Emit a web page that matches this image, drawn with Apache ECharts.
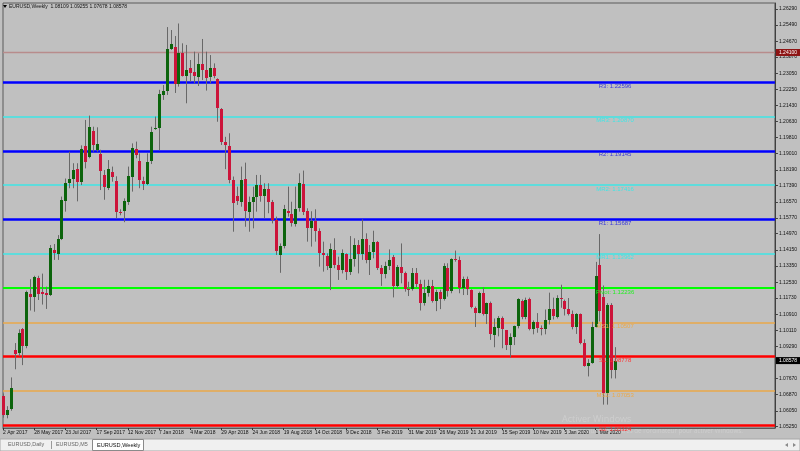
<!DOCTYPE html>
<html><head><meta charset="utf-8">
<script src="https://cdn.jsdelivr.net/npm/echarts@6/dist/echarts.min.js"></script>
<style>html,body{margin:0;padding:0;background:#c0c0c0;overflow:hidden}#c{width:800px;height:451px}</style>
</head><body><div id="c"></div>
<script>
// ---- data: weekly EURUSD candles, week index 0 = 2 Apr 2017 ----
const opens=[
1.0680,1.0585,1.0612,1.0910,1.0895,1.1015,1.0930,1.1195,1.1178,1.1275,
1.1205,1.1200,1.1190,1.1415,1.1395,1.1468,1.1662,1.1750,1.1773,1.1822,
1.1755,1.1940,1.1885,1.2015,1.1920,1.1897,1.1795,1.1728,1.1810,1.1765,
1.1607,1.1610,1.1655,1.1785,1.1925,1.1863,1.1764,1.1745,1.1865,1.2025,
1.2030,1.2195,1.2218,1.2428,1.2440,1.2251,1.2406,1.2291,1.2333,1.2310,
1.2288,1.2350,1.2322,1.2285,1.2330,1.2275,1.2125,1.1960,1.1940,1.1768,
1.1685,1.1655,1.1772,1.1605,1.1655,1.1680,1.1740,1.1688,1.1722,1.1655,
1.1566,1.1390,1.1437,1.1613,1.1595,1.1548,1.1625,1.1746,1.1610,1.1525,
1.1560,1.1512,1.1400,1.1385,1.1323,1.1415,1.1338,1.1314,1.1395,1.1305,
1.1370,1.1440,1.1395,1.1470,1.1362,1.1405,1.1455,1.1325,1.1295,1.1336,
1.1380,1.1235,1.1327,1.1300,1.1218,1.1216,1.1297,1.1245,1.1150,1.1200,
1.1234,1.1158,1.1205,1.1168,1.1325,1.1208,1.1368,1.1362,1.1222,1.1268,
1.1213,1.1121,1.1100,1.1200,1.1090,1.1150,1.0985,1.1022,1.1072,1.1010,
1.0937,1.0976,1.1032,1.1160,1.1076,1.1166,1.1018,1.1050,1.1020,1.1016,
1.1060,1.1120,1.1077,1.1175,1.1160,1.1120,1.1090,1.1025,1.1093,1.0944,
1.0830,1.0845,1.1025,1.1339,1.1180,1.0695,1.1140,1.08109];
const closes=[
1.0585,1.0610,1.0722,1.0893,1.0996,1.0930,1.1205,1.1178,1.1278,1.1195,
1.1195,1.1188,1.1425,1.1398,1.1468,1.1665,1.1750,1.1773,1.1820,1.1758,
1.1925,1.1858,1.2035,1.1943,1.1950,1.1812,1.1730,1.1822,1.1782,1.1605,
1.1605,1.1660,1.1790,1.1930,1.1895,1.1766,1.1747,1.1860,1.2008,1.2030,
1.2200,1.2218,1.2425,1.2455,1.2250,1.2406,1.2292,1.2320,1.2307,1.2290,
1.2352,1.2323,1.2283,1.2330,1.2290,1.2130,1.1960,1.1942,1.1770,1.1650,
1.1660,1.1770,1.1610,1.1655,1.1684,1.1744,1.1686,1.1720,1.1658,1.1568,
1.1410,1.1437,1.1622,1.1600,1.1550,1.1623,1.1750,1.1605,1.1525,1.1560,
1.1512,1.1400,1.1388,1.1335,1.1418,1.1338,1.1314,1.1400,1.1305,1.1370,
1.1440,1.1395,1.1470,1.1362,1.1405,1.1455,1.1325,1.1295,1.1336,1.1365,
1.1235,1.1327,1.1300,1.1218,1.1216,1.1297,1.1245,1.1150,1.1200,1.1234,
1.1158,1.1205,1.1168,1.1333,1.1208,1.1368,1.1362,1.1222,1.1270,1.1218,
1.1127,1.1100,1.1197,1.1090,1.1146,1.0990,1.1025,1.1072,1.1015,1.0937,
1.0976,1.1032,1.1166,1.1076,1.1165,1.1018,1.1050,1.1020,1.1016,1.1060,
1.1120,1.1080,1.1175,1.1166,1.1120,1.1092,1.1025,1.1093,1.0944,1.0830,
1.0845,1.1025,1.1285,1.1106,1.0695,1.1140,1.0810,1.08578];
const lows=[
1.0570,1.0567,1.0605,1.0814,1.0880,1.0835,1.0920,1.1110,1.1104,1.1163,
1.1140,1.1118,1.1183,1.1365,1.1365,1.1465,1.1608,1.1726,1.1726,1.1660,
1.1742,1.1826,1.1877,1.1910,1.1910,1.1717,1.1668,1.1717,1.1759,1.1574,
1.1590,1.1555,1.1642,1.1709,1.1877,1.1726,1.1717,1.1742,1.1848,1.2020,
1.1917,1.2171,1.2196,1.2423,1.2206,1.2238,1.2289,1.2154,1.2263,1.2255,
1.2241,1.2271,1.2218,1.2255,1.2280,1.2061,1.1944,1.1822,1.1751,1.1507,
1.1642,1.1633,1.1532,1.1507,1.1524,1.1608,1.1658,1.1574,1.1600,1.1549,
1.1390,1.1300,1.1423,1.1583,1.1533,1.1533,1.1608,1.1591,1.1457,1.1432,
1.1457,1.1331,1.1306,1.1314,1.1213,1.1323,1.1264,1.1297,1.1264,1.1289,
1.1331,1.1297,1.1365,1.1348,1.1289,1.1373,1.1314,1.1234,1.1272,1.1314,
1.1176,1.1222,1.1247,1.1205,1.1183,1.1210,1.1227,1.1110,1.1135,1.1180,
1.1150,1.1107,1.1117,1.1160,1.1180,1.1197,1.1356,1.1197,1.1188,1.1188,
1.1121,1.1027,1.1096,1.1085,1.1042,1.0962,1.0925,1.0980,1.0920,1.0911,
1.0874,1.0936,1.1020,1.1066,1.1066,1.1010,1.0990,1.0998,1.0985,1.0990,
1.1040,1.1065,1.1070,1.1124,1.1085,1.1085,1.1015,1.0992,1.0940,1.0827,
1.0778,1.0842,1.1025,1.1055,1.0636,1.0636,1.0768,1.07678];
const highs=[
1.0692,1.0628,1.0773,1.0946,1.1015,1.1022,1.1210,1.1268,1.1285,1.1285,
1.1296,1.1230,1.1440,1.1445,1.1490,1.1684,1.1775,1.1910,1.1852,1.1852,
1.1942,1.2070,1.2092,1.2036,1.2033,1.1920,1.1818,1.1868,1.1835,1.1786,
1.1620,1.1675,1.1835,1.1952,1.1961,1.1902,1.1784,1.1902,1.2036,1.2087,
1.2222,1.2246,1.2538,1.2523,1.2493,1.2556,1.2456,1.2448,1.2372,1.2414,
1.2406,1.2478,1.2414,1.2397,1.2355,1.2280,1.2130,1.1985,1.2003,1.1785,
1.1734,1.1835,1.1855,1.1684,1.1734,1.1793,1.1793,1.1751,1.1751,1.1667,
1.1583,1.1448,1.1642,1.1734,1.1658,1.1734,1.1801,1.1815,1.1625,1.1610,
1.1620,1.1524,1.1457,1.1398,1.1448,1.1474,1.1381,1.1418,1.1398,1.1485,
1.1474,1.1465,1.1569,1.1499,1.1440,1.1512,1.1460,1.1339,1.1356,1.1418,
1.1390,1.1339,1.1448,1.1306,1.1255,1.1324,1.1324,1.1265,1.1265,1.1265,
1.1264,1.1215,1.1215,1.1348,1.1348,1.1373,1.1412,1.1382,1.1281,1.1281,
1.1217,1.1130,1.1205,1.1227,1.1150,1.1155,1.1070,1.1082,1.1080,1.1012,
1.0995,1.1034,1.1172,1.1166,1.1175,1.1175,1.1060,1.1097,1.1035,1.1115,
1.1200,1.1175,1.1187,1.1240,1.1165,1.1173,1.1110,1.1097,1.1095,1.0965,
1.0865,1.1053,1.1355,1.1495,1.1236,1.1147,1.1147,1.09255];

const dateLabels=["2 Apr 2017","28 May 2017","23 Jul 2017","17 Sep 2017","12 Nov 2017","7 Jan 2018","4 Mar 2018","29 Apr 2018","24 Jun 2018","19 Aug 2018","14 Oct 2018","9 Dec 2018","3 Feb 2019","31 Mar 2019","26 May 2019","21 Jul 2019","15 Sep 2019","10 Nov 2019","5 Jan 2020","1 Mar 2020"];
const weeksPerLabel=8;
const yTicks=[1.26290,1.25490,1.24670,1.23870,1.23050,1.22250,1.21430,1.20630,1.19810,1.19010,1.18190,1.17390,1.16570,1.15770,1.14970,1.14150,1.13350,1.12530,1.11730,1.10910,1.10110,1.09290,1.07670,1.06870,1.06050,1.05250];
const levelNames=["R3","MR3","R2","MR2","R1","MR1","Pivot","MS1","S1","MS2","S2"];
const levelValues=[1.22596,1.20870,1.19145,1.17416,1.15687,1.13962,1.12236,1.10507,1.08778,1.07053,1.05324];
const alertLevel=1.24100;
const lastPrice=1.08578;
const titleText="EURUSD,Weekly  1.08109 1.09255 1.07678 1.08578";
const tabNames=["EURUSD,Daily","EURUSD,M5","EURUSD,Weekly"];

// ---- styles ----
const levelStyle={
  R:{line:'#0000ff',w:2.5,text:'#3b3bd6'},
  MR:{line:'#3ee6e6',w:1.6,text:'#3ee6e6'},
  Pivot:{line:'#00ff00',w:2,text:'#22ee22'},
  MS:{line:'#eaa94a',w:1.6,text:'#eaa94a'},
  S:{line:'#ff0000',w:2.5,text:'#ff3030'}
};
function styleOf(n){ if(n==='Pivot')return levelStyle.Pivot; if(n.startsWith('MR'))return levelStyle.MR; if(n.startsWith('MS'))return levelStyle.MS; if(n[0]==='R')return levelStyle.R; return levelStyle.S; }
const FONT='"Liberation Sans", Arial, sans-serif';
const SLOTS=199, STEP=3.91, LEFT=2.5, TOP=3, BOTTOM_Y=428;
const PX_PER_UNIT=1985, REF_Y=9, REF_V=1.26290;
const yMax=REF_V+(REF_Y-TOP)/PX_PER_UNIT;
const yMin=yMax-(BOTTOM_Y-TOP)/PX_PER_UNIT;

const cats=[]; for(let i=0;i<SLOTS;i++) cats.push(String(i));
const candleData=opens.map((o,i)=>[i,o,closes[i],lows[i],highs[i]]);
const lastLabelIdx=(dateLabels.length-1)*weeksPerLabel;
const showIdx=(idx)=>idx%weeksPerLabel===0 && idx<=lastLabelIdx;

const chart=echarts.init(document.getElementById('c'),null,{renderer:'canvas'});
chart.setOption({
  animation:false,
  backgroundColor:'#c0c0c0',
  grid:{left:LEFT,top:TOP,width:STEP*(SLOTS-1),height:BOTTOM_Y-TOP,show:true,borderColor:'#5a5a5a',borderWidth:1,backgroundColor:'#c0c0c0'},
  xAxis:{type:'category',data:cats,boundaryGap:false,
    axisLine:{show:true,lineStyle:{color:'#5a5a5a'}},
    axisTick:{show:true,interval:showIdx,length:2,lineStyle:{color:'#303030'}},
    axisLabel:{show:true,interval:showIdx,formatter:(v,idx)=>dateLabels[Math.round(Number(v)/weeksPerLabel)],align:'left',fontSize:5,color:'#111',margin:2,fontFamily:FONT},
    splitLine:{show:false}},
  yAxis:{type:'value',position:'right',min:yMin,max:yMax,
    axisLine:{show:true,lineStyle:{color:'#404040'}},
    axisTick:{show:true,customValues:yTicks,length:3,lineStyle:{color:'#404040'}},
    axisLabel:{show:true,customValues:yTicks,formatter:v=>v.toFixed(5),fontSize:5,color:'#111',margin:4,fontFamily:FONT},
    splitLine:{show:false}},
  series:[
    {type:'line',data:[],z:1,silent:true,
      markLine:{silent:true,symbol:['none','none'],precision:5,animation:false,
        data:levelValues.map((v,k)=>({yAxis:v,lineStyle:{color:styleOf(levelNames[k]).line,width:styleOf(levelNames[k]).w,type:'solid'},label:{show:false}}))
          .concat([
            {yAxis:alertLevel,lineStyle:{color:'#b88c8c',width:1.4,type:'solid'},label:{show:true,position:'end',distance:1,formatter:alertLevel.toFixed(5),backgroundColor:'#8e1414',color:'#fff',fontSize:5,padding:[1,3,1,3],fontFamily:FONT}},
            {yAxis:lastPrice,lineStyle:{color:'rgba(0,0,0,0)',width:0},label:{show:true,position:'end',distance:1,formatter:lastPrice.toFixed(5),backgroundColor:'#000',color:'#fff',fontSize:5,padding:[1,3,1,3],fontFamily:FONT}}
          ])},
      markPoint:{silent:true,symbol:'circle',symbolSize:0,animation:false,
        data:levelValues.map((v,k)=>({coord:[opens.length-1,v],label:{show:true,position:'bottom',distance:1,formatter:levelNames[k]+': '+v.toFixed(5),color:styleOf(levelNames[k]).text,fontSize:6,fontFamily:FONT}}))}
    },
    {type:'custom',z:5,data:candleData,encode:{x:0,y:[1,2,3,4]},clip:false,
      renderItem:function(params,api){
        const i=api.value(0),o=api.value(1),c=api.value(2),l=api.value(3),h=api.value(4);
        const pO=api.coord([i,o]),pC=api.coord([i,c]),pL=api.coord([i,l]),pH=api.coord([i,h]);
        const cx=Math.round(pO[0]);
        const t=Math.round(Math.min(pO[1],pC[1])), b=Math.round(Math.max(pO[1],pC[1]));
        const up=c>=o;
        return {type:'group',children:[
          {type:'line',shape:{x1:cx+0.5,y1:pH[1],x2:cx+0.5,y2:pL[1]},style:{stroke:'#686868',lineWidth:1}},
          {type:'rect',shape:{x:cx-1,y:t,width:3,height:Math.max(1,b-t)},style:{fill:up?'#0c640c':'#cc143a'}}
        ]};
      }}
  ],
  graphic:[
    {type:'polygon',shape:{points:[[3,5],[7,5],[5,8]]},style:{fill:'#000'}},
    {type:'text',left:9,top:4,style:{text:titleText,fontSize:5,fill:'#111',fontFamily:FONT}},
    {type:'text',left:562,top:415,silent:true,style:{text:'Activer Windows',fontSize:9,fill:'rgba(255,255,255,0.22)',fontFamily:'"Open Sans", sans-serif'}},
    {type:'text',left:562,top:428,silent:true,style:{text:"Accédez aux paramètres de l'ordinateur pour activer Windows.",fontSize:6.2,fill:'rgba(255,255,255,0.22)',fontFamily:'"Open Sans", sans-serif'}},
    {type:'rect',shape:{x:0,y:439,width:800,height:12},style:{fill:'#f0f0f0',stroke:'#a8a8a8',lineWidth:1}},
    {type:'text',left:8,top:442,style:{text:tabNames[0],fontSize:5.4,fill:'#666',fontFamily:FONT}},
    {type:'line',shape:{x1:51.5,y1:441,x2:51.5,y2:449},style:{stroke:'#999',lineWidth:1}},
    {type:'text',left:56,top:442,style:{text:tabNames[1],fontSize:5.4,fill:'#666',fontFamily:FONT}},
    {type:'rect',shape:{x:92.5,y:439.5,width:51,height:11},style:{fill:'#ffffff',stroke:'#8a8a8a',lineWidth:1}},
    {type:'text',left:97,top:442,style:{text:tabNames[2],fontSize:5.6,fill:'#111',fontFamily:FONT}},
    {type:'polygon',shape:{points:[[785,445],[788,443],[788,447]]},style:{fill:'#8a8a8a'}},
    {type:'polygon',shape:{points:[[796,445],[793,443],[793,447]]},style:{fill:'#8a8a8a'}}
  ]
});
</script></body></html>
